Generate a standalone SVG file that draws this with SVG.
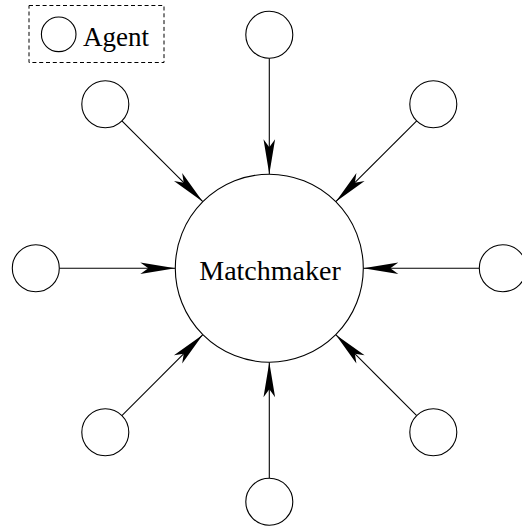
<svg xmlns="http://www.w3.org/2000/svg" width="522" height="529" viewBox="0 0 522 529">
<style>
.n{fill:#fff;stroke:#000;stroke-width:1.1}
.c{stroke:#000;stroke-width:1.1;fill:none;marker-end:url(#ah)}
.t{font-family:"Liberation Serif","Times New Roman",serif;fill:#000}
</style>
<defs>
<marker id="ah" markerUnits="userSpaceOnUse" viewBox="-36 -7 40 14" markerWidth="40" markerHeight="14" refX="0" refY="0" orient="auto" overflow="visible">
<path d="M0,0 L-35,-5.8 L-27,0 L-35,5.8 Z" fill="#000"/>
</marker>
</defs>
<g id="legend">
<rect x="29" y="5.5" width="135" height="57" fill="none" stroke="#000" stroke-width="1" stroke-dasharray="4,2.8"/>
<circle cx="58.7" cy="34.3" r="17.3" class="n"/>
<text x="83" y="46" class="t" font-size="27">Agent</text>
</g>
<g id="connectors">
<line class="c" x1="269.3" y1="58.2" x2="269.3" y2="174.2"/>
<line class="c" x1="269.3" y1="478.2" x2="269.3" y2="362.2"/>
<line class="c" x1="59.3" y1="268.2" x2="175.3" y2="268.2"/>
<line class="c" x1="479.3" y1="268.2" x2="363.3" y2="268.2"/>
<line class="c" x1="121.9" y1="120.8" x2="202.83" y2="201.73"/>
<line class="c" x1="416.7" y1="120.8" x2="335.77" y2="201.73"/>
<line class="c" x1="121.9" y1="415.6" x2="202.83" y2="334.67"/>
<line class="c" x1="416.7" y1="415.6" x2="335.77" y2="334.67"/>
</g>
<g id="matchmaker">
<circle cx="269.3" cy="268.2" r="94" class="n"/>
<text x="270" y="280" class="t" font-size="28" text-anchor="middle">Matchmaker</text>
</g>
<g id="agent-top"><circle cx="269.3" cy="34.7" r="23.5" class="n"/></g>
<g id="agent-bottom"><circle cx="269.3" cy="501.7" r="23.5" class="n"/></g>
<g id="agent-left"><circle cx="35.8" cy="268.2" r="23.5" class="n"/></g>
<g id="agent-right"><circle cx="502.8" cy="268.2" r="23.5" class="n"/></g>
<g id="agent-top-left"><circle cx="105.3" cy="104.2" r="23.5" class="n"/></g>
<g id="agent-top-right"><circle cx="433.3" cy="104.2" r="23.5" class="n"/></g>
<g id="agent-bottom-left"><circle cx="105.3" cy="432.2" r="23.5" class="n"/></g>
<g id="agent-bottom-right"><circle cx="433.3" cy="432.2" r="23.5" class="n"/></g>
</svg>
